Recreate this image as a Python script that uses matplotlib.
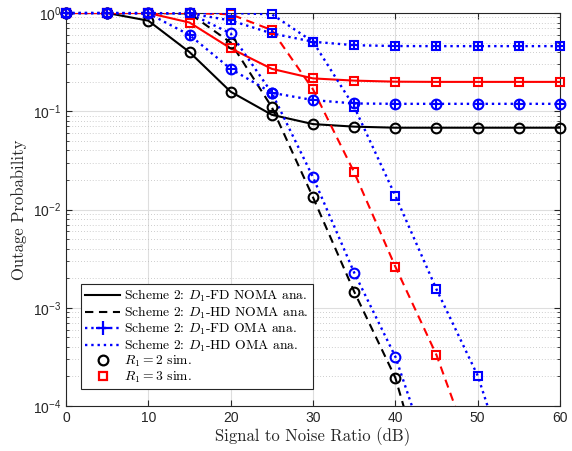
import numpy as np
import matplotlib
matplotlib.use("Agg")
import matplotlib.pyplot as plt
from matplotlib.lines import Line2D
from matplotlib.ticker import LogLocator, FixedLocator

plt.rcParams['mathtext.fontset'] = 'cm'
plt.rcParams['axes.formatter.use_mathtext'] = True

snr = [0, 5, 10, 15, 20, 25, 30, 35, 40, 45, 50, 55, 60]

# R1 = 2
noma_fd_r2 = [1, 1, 0.835, 0.40, 0.158, 0.092, 0.074, 0.0697, 0.068, 0.068, 0.068, 0.068, 0.068]
noma_hd_r2 = [1, 1, 1, 0.99, 0.50, 0.11, 0.0133, 0.00146, 0.000194, 7e-6, np.nan, np.nan, np.nan]
oma_fd_r2 = [1, 1, 0.99, 0.597, 0.27, 0.154, 0.13, 0.12, 0.119, 0.119, 0.119, 0.119, 0.119]
oma_hd_r2 = [1, 1, 1, 0.99, 0.62, 0.154, 0.0213, 0.00228, 0.000318, 1.8e-5, np.nan, np.nan, np.nan]

# R1 = 3
noma_fd_r3 = [1, 1, 1, 0.80, 0.437, 0.27, 0.216, 0.205, 0.20, 0.199, 0.199, 0.199, 0.199]
noma_hd_r3 = [1, 1, 1, 1, 0.97, 0.67, 0.167, 0.0239, 0.00262, 0.00033, 2.3e-5, np.nan, np.nan]
oma_fd_r3 = [1, 1, 1, 0.99, 0.84, 0.62, 0.51, 0.47, 0.461, 0.46, 0.46, 0.46, 0.46]
oma_hd_r3 = [1, 1, 1, 1, 1, 0.97, 0.51, 0.111, 0.0138, 0.00154, 0.000204, 1.05e-5, np.nan]

fig = plt.figure(figsize=(5.72, 4.51), dpi=100)
ax = fig.add_axes([66/572, 45/451, 494/572, 393/451])

LW = 1.5
DASH = (4, 2.7)

def ana(y, color, ls):
    ax.plot(snr, y, color=color, ls=ls, lw=LW,
            dashes=DASH if ls == '--' else (None, None), zorder=3)

def sim(y, color, marker, ms):
    x = np.array(snr, float)
    y = np.array(y, float)
    ok = y >= 1e-4
    ax.plot(x[ok], y[ok], ls='none', marker=marker, ms=ms, mew=1.5, mfc='none',
            mec=color, clip_on=False, zorder=4)

ana(noma_fd_r2, 'k', '-')
ana(noma_hd_r2, 'k', '--')
ana(noma_fd_r3, 'r', '-')
ana(noma_hd_r3, 'r', '--')
ax.plot(snr, oma_fd_r2, color='b', ls=':', lw=1.7, marker='+', ms=7.5, mew=1.5, clip_on=False, zorder=3)
ax.plot(snr, oma_fd_r3, color='b', ls=':', lw=1.7, marker='+', ms=7.5, mew=1.5, clip_on=False, zorder=3)
ax.plot(snr, oma_hd_r2, color='b', ls=':', lw=1.7, zorder=3)
ax.plot(snr, oma_hd_r3, color='b', ls=':', lw=1.7, zorder=3)

sim(noma_fd_r2, 'k', 'o', 7)
sim(noma_hd_r2, 'k', 'o', 7)
sim(oma_fd_r2, 'b', 'o', 7)
sim(oma_hd_r2, 'b', 'o', 7)
sim(noma_fd_r3, 'r', 's', 6.3)
sim(noma_hd_r3, 'r', 's', 6.3)
sim(oma_fd_r3, 'b', 's', 6.3)
sim(oma_hd_r3, 'b', 's', 6.3)

ax.set_yscale('log')
ax.set_xlim(0, 60)
ax.set_ylim(1e-4, 1)
ax.set_xticks([0, 10, 20, 30, 40, 50, 60])
ax.set_xticklabels([str(v) for v in [0, 10, 20, 30, 40, 50, 60]], fontfamily='Liberation Sans', fontsize=10)
yt = [1e-4, 1e-3, 1e-2, 1e-1, 1]
ax.yaxis.set_major_locator(FixedLocator(yt))
ax.yaxis.set_minor_locator(LogLocator(base=10, subs=np.arange(2, 10)))
ax.set_yticklabels([r'$\mathregular{10^{%d}}$' % e for e in [-4, -3, -2, -1, 0]],
                   fontfamily='Liberation Sans', fontsize=10)
ax.tick_params(which='both', direction='in', top=True, right=True, colors='#262626')
ax.tick_params(which='major', length=4)
ax.tick_params(which='minor', length=2.5)

ax.grid(True, which='major', color='#dedede', lw=0.8, ls='-')
ax.grid(True, which='minor', axis='y', color='#bdbdbd', lw=0.6, ls=(0, (1, 2.5)))
ax.set_axisbelow(True)
for s in ax.spines.values():
    s.set_color('#262626')
    s.set_linewidth(0.8)

ax.set_xlabel('Signal to Noise Ratio (dB)', fontfamily='cmr10', fontsize=12, color='#262626', labelpad=2)
ax.set_ylabel('Outage Probability', fontfamily='cmr10', fontsize=12, color='#262626', labelpad=4)

handles = [
    Line2D([], [], color='k', ls='-', lw=LW),
    Line2D([], [], color='k', ls='--', lw=LW, dashes=DASH),
    Line2D([], [], color='b', ls=':', lw=1.7, marker='+', ms=10, mew=1.6),
    Line2D([], [], color='b', ls=':', lw=1.7),
    Line2D([], [], color='k', ls='none', marker='o', ms=7, mew=1.6, mfc='none'),
    Line2D([], [], color='r', ls='none', marker='s', ms=6, mew=1.6, mfc='none'),
]
labels = [
    r'Scheme 2: $D_1$-FD NOMA ana.',
    r'Scheme 2: $D_1$-HD NOMA ana.',
    r'Scheme 2: $D_1$-FD OMA ana.',
    r'Scheme 2: $D_1$-HD OMA ana.',
    r'$R_1 = 2$ sim.',
    r'$R_1 = 3$ sim.',
]
leg = ax.legend(handles, labels, loc='lower left', bbox_to_anchor=(0.03, 0.043),
                borderaxespad=0, prop={'family': 'cmr10', 'size': 9.8}, fancybox=False,
                edgecolor='#262626', framealpha=1, handlelength=2.6, handletextpad=0.3,
                labelspacing=0.02, borderpad=0.3)
leg.get_frame().set_linewidth(0.8)

fig.savefig('out.png', dpi=100)
